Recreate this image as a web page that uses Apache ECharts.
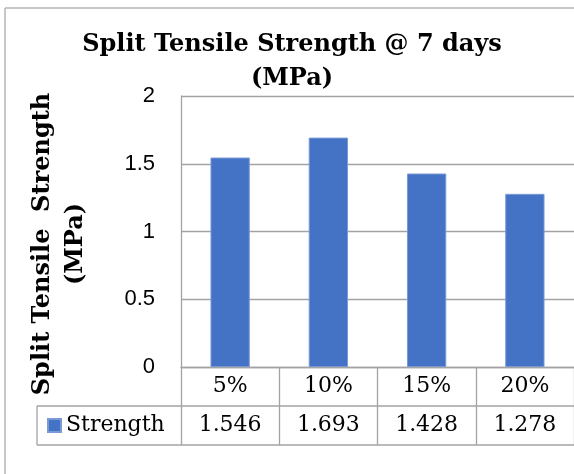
<!DOCTYPE html>
<html>
<head>
<meta charset="utf-8">
<script src="https://cdn.jsdelivr.net/npm/echarts@6/dist/echarts.min.js"></script>
<style>
  html, body { margin: 0; padding: 0; background: #fff; }
  #chart { width: 574px; height: 474px; }
</style>
</head>
<body>
<div id="chart"></div>
<script>
// Data
const categories = ['5%', '10%', '15%', '20%'];
const strength = [1.546, 1.693, 1.428, 1.278];
const seriesName = 'Strength';
const yMin = 0;
const yMax = 2;
const yStep = 0.5;

// Layout
const plot = { left: 181, top: 96, width: 397, height: 271 };
const rowH = 39;
const legendCellLeft = 37;
const frame = { left: 5, top: 8 };
const lineColor = '#a3a3a3';
const serif = '"DejaVu Serif", serif';
const plotBottom = plot.top + plot.height;
const plotRight = plot.left + plot.width;

const chart = echarts.init(document.getElementById('chart'), null, { renderer: 'canvas' });

const hLine = (x1, x2, y, color, w) => ({
  type: 'line', silent: true,
  shape: { x1: x1, y1: y, x2: x2, y2: y },
  style: { stroke: color, lineWidth: w }
});
const vLine = (x, y1, y2, color, w) => ({
  type: 'line', silent: true,
  shape: { x1: x, y1: y1, x2: x, y2: y2 },
  style: { stroke: color, lineWidth: w }
});

const option = {
  animation: false,
  backgroundColor: '#fff',
  title: {
    text: 'Split Tensile Strength @ 7 days\n(MPa)',
    left: 292,
    textAlign: 'center',
    top: 28,
    padding: 0,
    textStyle: { fontFamily: serif, fontWeight: 'bold', fontSize: 24, lineHeight: 34, color: '#000' }
  },
  legend: {
    data: [seriesName],
    left: 47,
    top: plotBottom + rowH + rowH / 2 - 11,
    padding: 0,
    icon: 'rect',
    itemWidth: 13,
    itemHeight: 13,
    textStyle: { fontFamily: serif, fontSize: 22, lineHeight: 22, color: '#000' }
  },
  grid: { left: plot.left, top: plot.top, width: plot.width, height: plot.height },
  xAxis: {
    type: 'category',
    data: categories,
    axisLine: { lineStyle: { color: lineColor, width: 1.3 } },
    axisTick: { show: true, length: rowH * 2, lineStyle: { color: lineColor, width: 1.3 } },
    axisLabel: {
      margin: 0,
      formatter: (v, i) => `{c|${v}}\n{c|${strength[i].toFixed(3)}}`,
      rich: { c: { fontFamily: serif, fontSize: 22, lineHeight: rowH, color: '#000' } }
    }
  },
  yAxis: {
    type: 'value',
    min: yMin,
    max: yMax,
    interval: yStep,
    axisLine: { show: true, lineStyle: { color: lineColor, width: 1.3 } },
    axisTick: { show: false },
    splitLine: { lineStyle: { color: lineColor, width: 1.3 } },
    axisLabel: { margin: 26, fontFamily: '"Liberation Sans", sans-serif', fontSize: 22, color: '#000' }
  },
  series: [{
    type: 'bar',
    name: seriesName,
    data: strength,
    barWidth: '40%',
    itemStyle: { color: '#4472C4', borderColor: '#7a9ad6', borderWidth: 1 }
  }],
  graphic: [
    // chart area border (top and left edges)
    hLine(frame.left, 800, frame.top, '#b5b5b5', 1.5),
    vLine(frame.left, frame.top, 800, '#b5b5b5', 1.5),
    // data table rows
    hLine(legendCellLeft, plotRight, plotBottom + rowH, lineColor, 1.3),
    hLine(legendCellLeft, plotRight, plotBottom + 2 * rowH, lineColor, 1.3),
    vLine(legendCellLeft, plotBottom + rowH, plotBottom + 2 * rowH, lineColor, 1.3),
    {
      type: 'text',
      x: 59,
      y: 244,
      rotation: Math.PI / 2,
      silent: true,
      style: {
        text: 'Split Tensile  Strength\n(MPa)',
        fontFamily: serif,
        fontWeight: 'bold',
        fontSize: 24,
        lineHeight: 33,
        align: 'center',
        verticalAlign: 'middle',
        fill: '#000'
      }
    }
  ]
};

chart.setOption(option);
</script>
</body>
</html>
